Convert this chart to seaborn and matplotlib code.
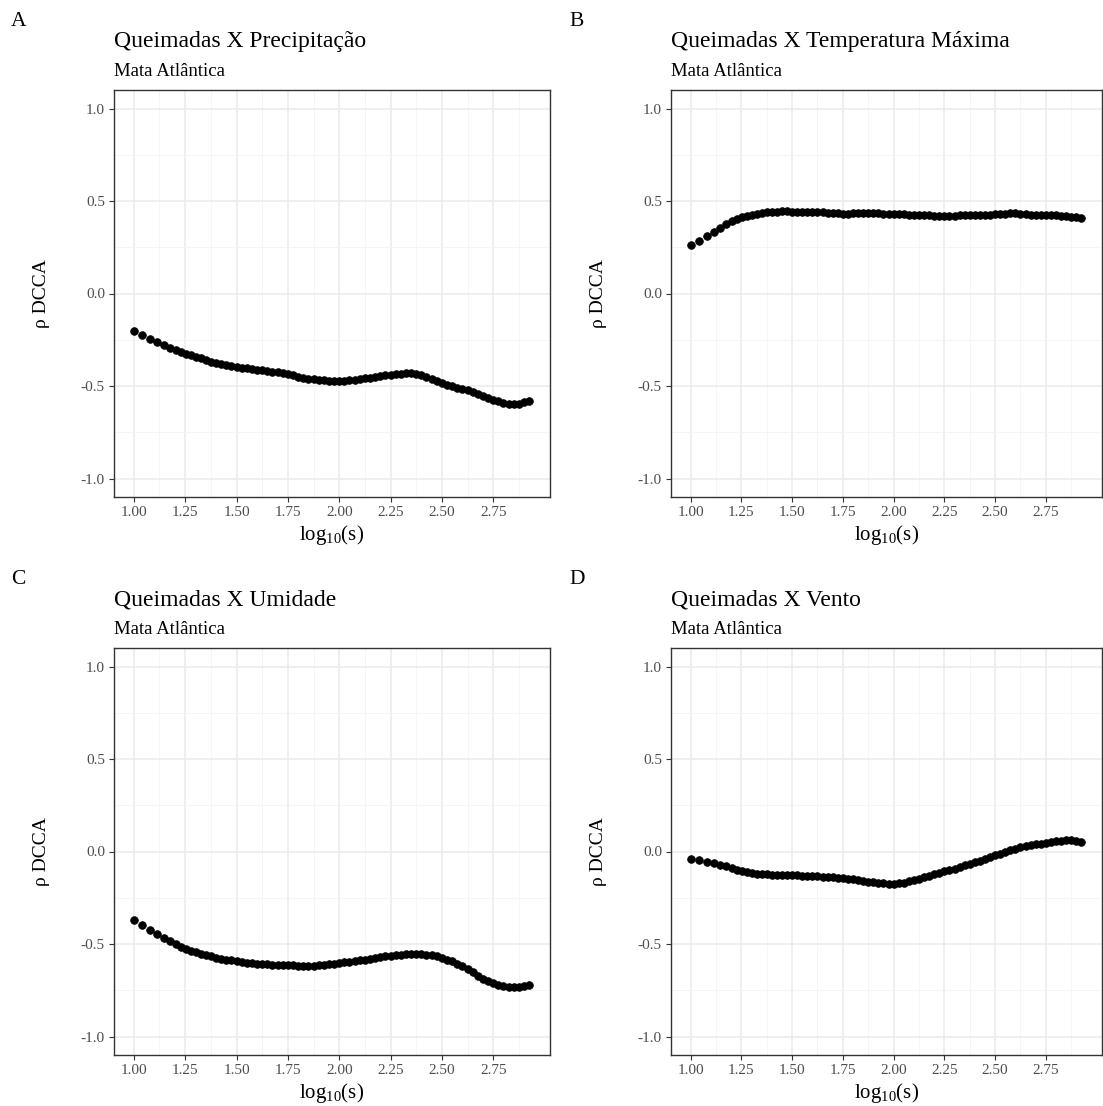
import numpy as np
import pandas as pd
import matplotlib
matplotlib.use("Agg")
import matplotlib.pyplot as plt
from matplotlib.ticker import FixedLocator
import seaborn as sns

# ---------------- data ----------------
log_s = [1.000, 1.041, 1.079, 1.114, 1.146, 1.176, 1.204, 1.230, 1.255, 1.279, 1.301,
         1.325, 1.350, 1.375, 1.400, 1.425, 1.450, 1.475, 1.500, 1.525, 1.550, 1.575,
         1.600, 1.625, 1.650, 1.675, 1.700, 1.725, 1.750, 1.775, 1.800, 1.825, 1.850,
         1.875, 1.900, 1.925, 1.950, 1.975, 2.000, 2.025, 2.050, 2.075, 2.100, 2.125,
         2.150, 2.175, 2.200, 2.225, 2.250, 2.275, 2.300, 2.325, 2.350, 2.375, 2.400,
         2.425, 2.450, 2.475, 2.500, 2.525, 2.550, 2.575, 2.600, 2.625, 2.650, 2.675,
         2.700, 2.725, 2.750, 2.775, 2.800, 2.825, 2.850, 2.875, 2.900, 2.925]

rho_precipitacao = [-0.205, -0.227, -0.246, -0.263, -0.279, -0.293, -0.306, -0.316, -0.326, -0.335, -0.343,
                    -0.351, -0.359, -0.368, -0.375, -0.381, -0.387, -0.393, -0.398, -0.402, -0.405, -0.408,
                    -0.411, -0.414, -0.418, -0.423, -0.427, -0.432, -0.437, -0.443, -0.449, -0.455, -0.460,
                    -0.464, -0.468, -0.470, -0.472, -0.473, -0.473, -0.472, -0.470, -0.467, -0.463, -0.459,
                    -0.455, -0.451, -0.447, -0.443, -0.440, -0.436, -0.433, -0.432, -0.432, -0.435, -0.442,
                    -0.452, -0.462, -0.474, -0.485, -0.493, -0.501, -0.509, -0.516, -0.524, -0.534, -0.545,
                    -0.555, -0.564, -0.573, -0.583, -0.591, -0.596, -0.597, -0.595, -0.589, -0.580]

rho_temperatura = [0.262, 0.286, 0.310, 0.333, 0.355, 0.374, 0.391, 0.404, 0.414, 0.421, 0.427,
                   0.432, 0.436, 0.439, 0.441, 0.443, 0.444, 0.444, 0.443, 0.442, 0.441, 0.440,
                   0.440, 0.439, 0.439, 0.437, 0.435, 0.433, 0.432, 0.432, 0.433, 0.434, 0.435,
                   0.435, 0.434, 0.433, 0.432, 0.431, 0.430, 0.429, 0.428, 0.427, 0.427, 0.426,
                   0.424, 0.422, 0.420, 0.419, 0.419, 0.420, 0.421, 0.422, 0.423, 0.423, 0.424,
                   0.425, 0.426, 0.427, 0.428, 0.429, 0.431, 0.433, 0.433, 0.431, 0.428, 0.426,
                   0.425, 0.424, 0.424, 0.423, 0.422, 0.420, 0.418, 0.416, 0.412, 0.408]

rho_umidade = [-0.369, -0.399, -0.423, -0.446, -0.468, -0.485, -0.501, -0.514, -0.527, -0.537, -0.545,
               -0.553, -0.560, -0.567, -0.573, -0.579, -0.584, -0.589, -0.594, -0.598, -0.601, -0.604,
               -0.606, -0.608, -0.610, -0.612, -0.613, -0.614, -0.615, -0.616, -0.617, -0.618, -0.619,
               -0.617, -0.615, -0.612, -0.609, -0.606, -0.603, -0.599, -0.595, -0.591, -0.588, -0.584,
               -0.580, -0.576, -0.571, -0.567, -0.563, -0.560, -0.557, -0.555, -0.554, -0.554, -0.555,
               -0.557, -0.561, -0.567, -0.575, -0.584, -0.594, -0.606, -0.620, -0.637, -0.654, -0.672,
               -0.688, -0.700, -0.710, -0.719, -0.726, -0.730, -0.731, -0.731, -0.728, -0.723]

rho_vento = [-0.038, -0.048, -0.055, -0.062, -0.071, -0.081, -0.091, -0.099, -0.107, -0.112, -0.116,
             -0.119, -0.122, -0.124, -0.126, -0.127, -0.128, -0.128, -0.128, -0.129, -0.130, -0.131,
             -0.133, -0.135, -0.137, -0.139, -0.140, -0.142, -0.144, -0.147, -0.151, -0.155, -0.160,
             -0.164, -0.167, -0.170, -0.172, -0.174, -0.174, -0.172, -0.168, -0.162, -0.155, -0.147,
             -0.139, -0.131, -0.123, -0.115, -0.108, -0.100, -0.092, -0.083, -0.075, -0.067, -0.058,
             -0.049, -0.040, -0.030, -0.020, -0.011, -0.002, 0.007, 0.015, 0.025, 0.031, 0.036,
             0.040, 0.043, 0.047, 0.051, 0.055, 0.058, 0.061, 0.061, 0.059, 0.053]

tags = ["A", "B", "C", "D"]
titles = ["Queimadas X Precipitação", "Queimadas X Temperatura Máxima",
          "Queimadas X Umidade", "Queimadas X Vento"]
subtitle = "Mata Atlântica"
series = [rho_precipitacao, rho_temperatura, rho_umidade, rho_vento]
x_ticks = [1.00, 1.25, 1.50, 1.75, 2.00, 2.25, 2.50, 2.75]
y_ticks = [-1.0, -0.5, 0.0, 0.5, 1.0]

# ---------------- style ----------------
sns.set_theme(style="white")
SERIF = ["Liberation Serif", "DejaVu Serif"]
plt.rcParams["font.family"] = SERIF
plt.rcParams["mathtext.fontset"] = "custom"
plt.rcParams["mathtext.rm"] = "Liberation Serif"
plt.rcParams["mathtext.it"] = "Liberation Serif:italic"

W, H = 1103, 1106
fig = plt.figure(figsize=(W / 100, H / 100), dpi=100)

# panel pixel boxes: (left, top, right, bottom)
boxes = [(114, 90, 550, 497), (671, 90, 1102, 497),
         (114, 648, 550, 1055), (671, 648, 1102, 1055)]
tag_pos = [(11, 22), (569, 22), (11, 580), (569, 580)]

xmin = 1.0 - 0.0965
xmax = 2.93 + 0.0965

for i in range(4):
    l, t, r, b = boxes[i]
    ax = fig.add_axes([l / W, 1 - b / H, (r - l) / W, (b - t) / H])
    df = pd.DataFrame({"x": log_s, "y": series[i]})
    sns.scatterplot(data=df, x="x", y="y", ax=ax, color="black", s=30,
                    linewidth=0.6, edgecolor="black", legend=False, zorder=3)
    ax.set_xlim(xmin, xmax)
    ax.set_ylim(-1.1, 1.1)
    ax.xaxis.set_major_locator(FixedLocator(x_ticks))
    ax.yaxis.set_major_locator(FixedLocator(y_ticks))
    ax.xaxis.set_minor_locator(FixedLocator([0.875 + 0.25 * k for k in range(10)]))
    ax.yaxis.set_minor_locator(FixedLocator([-0.75, -0.25, 0.25, 0.75]))
    ax.set_xticklabels([f"{v:.2f}" for v in x_ticks])
    ax.set_yticklabels([f"{v:.1f}" for v in y_ticks])
    ax.grid(which="major", color="#EBEBEB", linewidth=1.1, zorder=0)
    ax.grid(which="minor", color="#F4F4F4", linewidth=0.6, zorder=0)
    ax.set_axisbelow(True)
    for sp in ax.spines.values():
        sp.set_visible(True)
        sp.set_color("#333333")
        sp.set_linewidth(1.0)
    ax.tick_params(which="major", direction="out", length=3.5, width=0.8,
                   color="#333333", labelcolor="#4D4D4D", labelsize=11, pad=3,
                   bottom=True, left=True)
    ax.tick_params(which="minor", length=0)
    ax.set_xlabel(r"$\mathrm{log_{10}(s)}$", fontsize=15, color="black", labelpad=3)
    ax.set_ylabel("ρ DCCA", fontsize=14, color="black", labelpad=22)
    # titles
    fig.text(l / W, 1 - (t - 48) / H, titles[i], fontsize=17, color="black",
             ha="left", va="center")
    fig.text(l / W, 1 - (t - 19) / H, subtitle, fontsize=13.5, color="black",
             ha="left", va="center")
    tx, ty = tag_pos[i]
    fig.text(tx / W, 1 - ty / H, tags[i], fontsize=15.5, color="black",
             ha="left", va="center")

fig.savefig("out.png", dpi=100, facecolor="white")
